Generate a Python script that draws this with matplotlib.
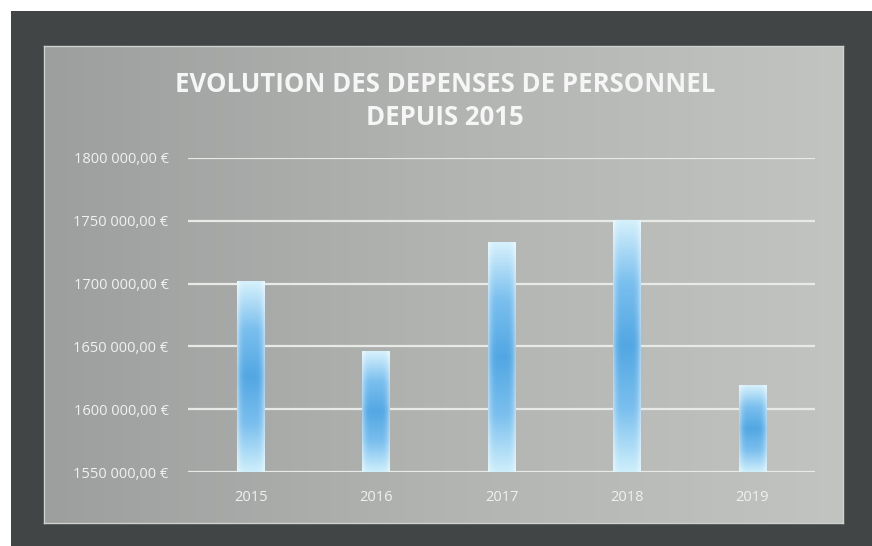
import numpy as np
import matplotlib.pyplot as plt
from matplotlib.patches import Rectangle
from matplotlib.colors import LinearSegmentedColormap

# Data
years = ["2015", "2016", "2017", "2018", "2019"]
depenses = [1702000, 1646000, 1733000, 1751000, 1619000]
y_ticks = [1550000, 1600000, 1650000, 1700000, 1750000, 1800000]
y_labels = ["1550 000,00 €", "1600 000,00 €", "1650 000,00 €",
            "1700 000,00 €", "1750 000,00 €", "1800 000,00 €"]
title = "EVOLUTION DES DEPENSES DE PERSONNEL\nDEPUIS 2015"

W, H = 872, 546
fig = plt.figure(figsize=(W / 100, H / 100), dpi=100)
fig.patch.set_facecolor("white")

# dark outer frame (figure pixel coords)
frame = Rectangle((11 / W, 0), 1 - 11 / W, 1 - 11 / H,
                  transform=fig.transFigure, facecolor="#424546",
                  edgecolor="none", zorder=-5)
fig.patches.append(frame)

# grey panel with a soft left-to-right gradient
bg = fig.add_axes([44 / W, 1 - 523 / H, (843 - 44) / W, (523 - 46) / H], zorder=0)
grad = np.linspace(0, 1, 256).reshape(1, -1)
bg_cmap = LinearSegmentedColormap.from_list("bg", ["#9d9f9e", "#b2b4b2", "#c2c4c2"])
bg.imshow(grad, aspect="auto", cmap=bg_cmap, extent=[0, 1, 0, 1])
bg.set_xlim(0, 1)
bg.set_ylim(0, 1)
for s in bg.spines.values():
    s.set_color("#cfd1cf")
    s.set_linewidth(1.0)
bg.set_xticks([])
bg.set_yticks([])

ax = fig.add_axes([188 / W, 1 - 472 / H, (815 - 188) / W, (472 - 158) / H], zorder=1)
ax.patch.set_alpha(0)
x = np.arange(len(years))
bars = ax.bar(x, [v - y_ticks[0] for v in depenses], bottom=y_ticks[0],
              width=0.22, color="none", edgecolor="none", zorder=3)

# blue gradient fill inside each bar: pale at the ends, stronger in the middle
bar_cmap = LinearSegmentedColormap.from_list(
    "bar", ["#cdeefb", "#7abfee", "#52a7e3", "#7abfee", "#d6f1fc"])
edge_cmap = LinearSegmentedColormap.from_list("e", [(1, 1, 1, 0), (1, 1, 1, 0.5)])
for b in bars:
    x0, y0 = b.get_x(), b.get_y()
    w, h = b.get_width(), b.get_height()
    vert = np.linspace(0, 1, 200).reshape(-1, 1) * np.ones((1, 40))
    im = ax.imshow(vert, aspect="auto", cmap=bar_cmap, origin="lower",
                   extent=[x0, x0 + w, y0, y0 + h], zorder=3)
    im.set_clip_path(b)
    # lighter side edges
    side = (np.linspace(-1, 1, 40) ** 4).reshape(1, -1)
    edge = ax.imshow(side, aspect="auto", cmap=edge_cmap,
                     extent=[x0, x0 + w, y0, y0 + h], zorder=4, vmin=0, vmax=1)
    edge.set_clip_path(b)

ax.set_xlim(-0.5, len(years) - 0.5)
ax.set_ylim(y_ticks[0], y_ticks[-1])
ax.set_yticks(y_ticks)
ax.set_yticklabels(y_labels)
ax.set_xticks(x)
ax.set_xticklabels(years)
ax.yaxis.grid(True, color="#e8eae8", linewidth=1.6, zorder=1)
ax.set_axisbelow(True)
for s in ax.spines.values():
    s.set_visible(False)
ax.tick_params(axis="both", length=0, colors="#f0f0f0")
ax.tick_params(axis="y", pad=14, labelsize=10.5)
ax.tick_params(axis="x", pad=13, labelsize=10.5)
for lab in ax.get_xticklabels() + ax.get_yticklabels():
    lab.set_family("Open Sans")

fig.text(445 / W, 1 - 101 / H, title, ha="center", va="center",
         fontsize=18.5, color="#f6f6f6", fontweight="bold",
         family="Open Sans", linespacing=1.3)

fig.savefig("out.png", dpi=100, facecolor=fig.get_facecolor())
